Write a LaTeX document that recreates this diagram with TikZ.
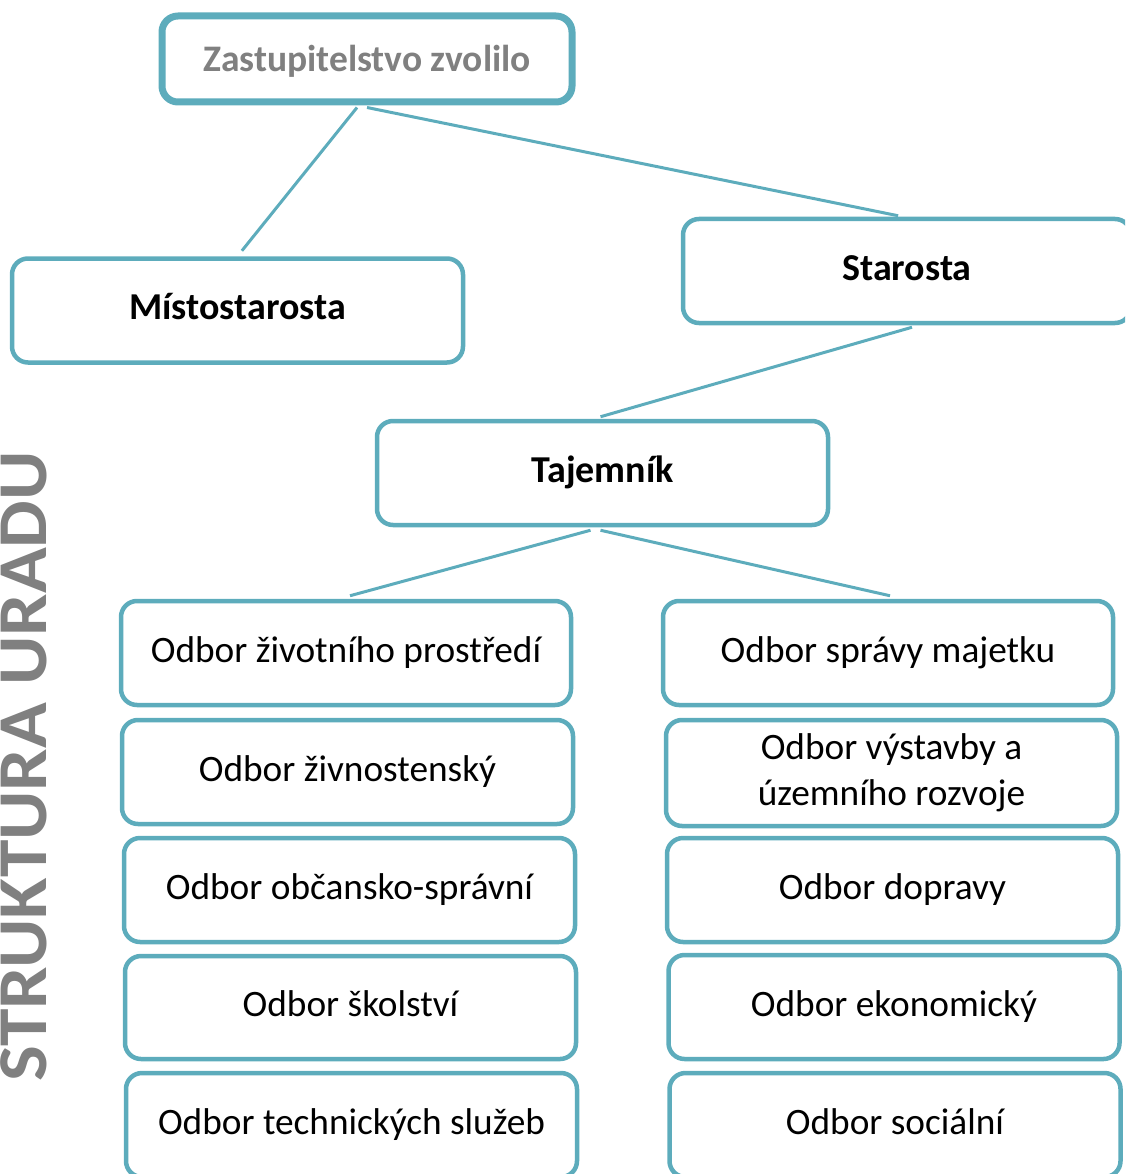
\documentclass[tikz,border=0pt]{standalone}
\usepackage{fontspec}
\setmainfont{Carlito}
\usetikzlibrary{positioning}
\definecolor{tyrkys}{RGB}{93,172,188}
\definecolor{seda}{RGB}{128,128,128}
\tikzset{
	x=1pt, y=-1pt,
	odbor/.style={draw=tyrkys, line width=4.5pt, rounded corners=16pt, fill=white,
		minimum width=451pt, minimum height=104pt, align=center, inner sep=0pt,
		text height=28pt, text depth=10pt,
		font=\fontsize{37.3}{46}\selectfont},
	vedeni/.style={odbor, font=\fontsize{38}{46}\selectfont\bfseries},
	spoj/.style={draw=tyrkys, line width=3pt}
}

\begin{document}
\begin{tikzpicture}
\clip (0,0) rectangle (1125,1174);
\node (nadpis) [rotate=90,text=seda,font=\fontsize{70}{70}\selectfont\bfseries,inner sep=0pt] at (24,766.5) {\scalebox{1.08}[1]{STRUKTURA URADU}};
\node (zast) [vedeni,line width=7pt,minimum width=410pt,minimum height=86pt,text=seda,text height=30pt,text depth=4pt,font=\fontsize{37.5}{46}\selectfont\bfseries] at (367,59) {Zastupitelstvo zvolilo};
\node (misto) [vedeni] at (237.5,310.5) {Místostarosta};
\node (star) [vedeni,minimum width=448pt] at (907,271) {Starosta};
\node (taj) [vedeni] at (602.5,473) {Tajemník};
\node (zp) [odbor,minimum width=450pt] at (346,653) {Odbor životního prostředí};
\node (ziv) [odbor] at (347.5,772) {Odbor živnostenský};
\node (obc) [odbor] at (349.5,890) {Odbor občansko-správní};
\node (skol) [odbor,minimum height=103pt] at (350.5,1007.5) {Odbor školství};
\node (tech) [odbor] at (351.5,1125) {Odbor technických služeb};
\node (maj) [odbor,minimum width=450pt] at (888,653) {Odbor správy majetku};
\node (vyst) [odbor,minimum height=106pt,text height={},text depth={}] at (891.5,773) {Odbor výstavby a\\územního rozvoje};
\node (dop) [odbor] at (892.5,890) {Odbor dopravy};
\node (eko) [odbor] at (894,1007) {Odbor ekonomický};
\node (soc) [odbor] at (895,1125) {Odbor sociální};
\draw[spoj,shorten >=7pt] ([xshift=-10pt,yshift=-2pt]zast.south) -- (misto.north);
\draw[spoj,shorten >=5pt] ([yshift=-2pt]zast.south) -- ([xshift=-4pt]star.north);
\draw[spoj] ([xshift=5pt,yshift=-2pt]star.south) -- ([xshift=-2pt,yshift=2pt]taj.north);
\draw[spoj] ([xshift=-12pt,yshift=-3pt]taj.south) -- ([xshift=4pt,yshift=3pt]zp.north);
\draw[spoj] ([xshift=-2pt,yshift=-3pt]taj.south) -- ([xshift=2pt,yshift=3pt]maj.north);
\end{tikzpicture}
\end{document}
